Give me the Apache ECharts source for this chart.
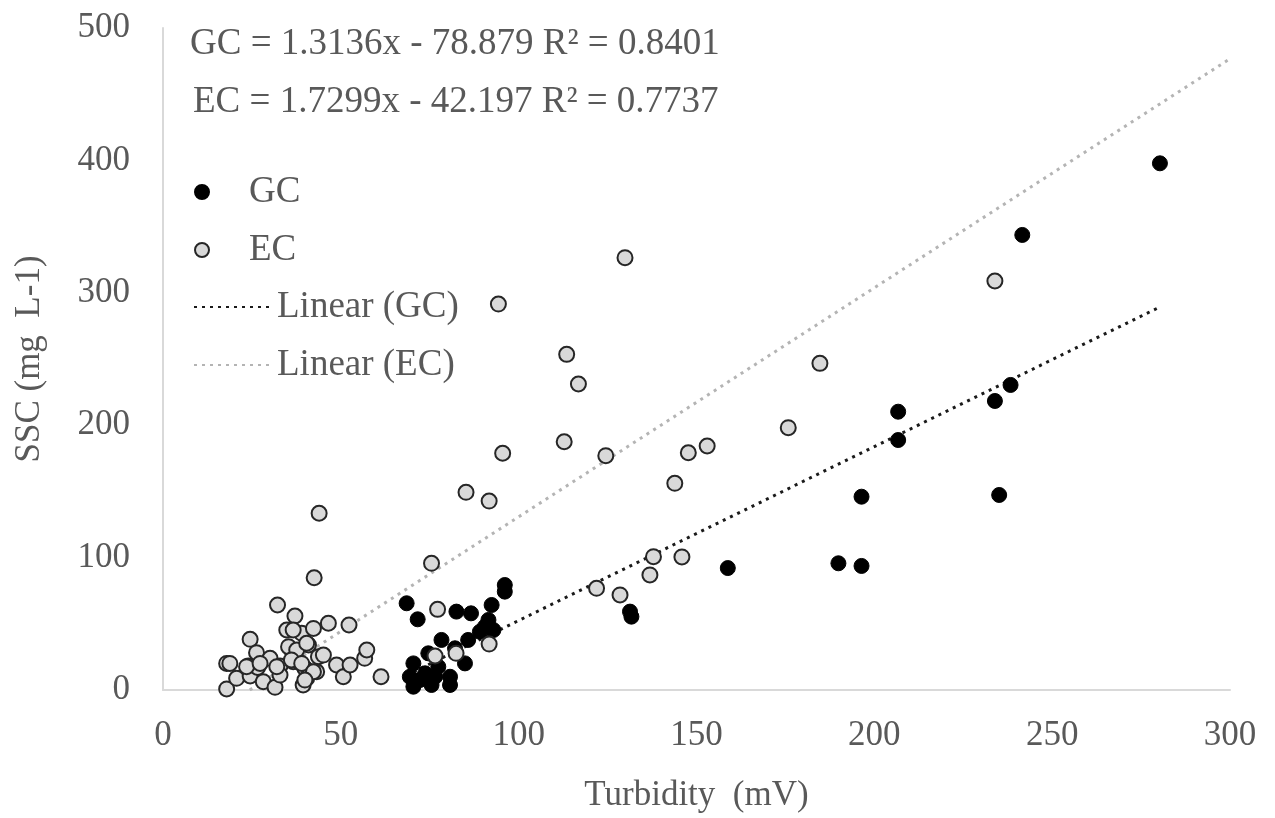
<!DOCTYPE html>
<html>
<head>
<meta charset="utf-8">
<script src="https://cdn.jsdelivr.net/npm/echarts@6/dist/echarts.min.js"></script>
<style>
  html, body { margin: 0; padding: 0; background: #fff; }
  #chart { width: 1275px; height: 818px; }
</style>
</head>
<body>
<div id="chart"></div>
<script>
// GC points (turbidity mV, SSC mg/L)
const gcX = [68.5, 71.6, 82.5, 86.6, 92.4, 91.5, 90.5, 89.1, 92.9, 96.1, 96.1, 85.8, 78.3, 82.1, 74.6,
  84.9, 70.4, 77.4, 69.4, 73.7, 76.5, 80.7, 70.4, 72.2, 75.5, 80.7, 131.3, 131.7, 158.8, 189.9,
  196.4, 196.4, 235.1, 206.7, 206.7, 233.9, 238.3, 241.6, 280.3];
const gcY = [65.5, 53.4, 59.2, 57.9, 64.2, 52.9, 47.8, 44.0, 45.3, 79.3, 74.3, 37.8, 37.8, 31.5, 27.7,
  20.1, 20.1, 17.6, 10.0, 12.6, 10.0, 10.0, 2.5, 7.5, 3.8, 3.8, 59.2, 55.4, 92.1, 95.7,
  93.7, 146.0, 147.3, 188.8, 210.2, 218.3, 230.4, 343.7, 397.8];

// EC points
const ecX = [17.9, 17.9, 20.7, 24.0, 24.5, 24.5, 26.3, 26.6, 28.2, 30.1, 31.5, 32.2, 32.9, 32.9, 34.8,
  36.1, 36.6, 37.1, 39.0, 39.4, 39.9, 40.4, 40.9, 42.3, 38.5, 43.7, 43.9, 42.5, 45.1, 46.5,
  48.8, 50.7, 52.3, 52.6, 56.7, 57.3, 61.3, 41.5, 43.2, 75.5, 77.2, 76.5, 82.4, 91.7, 85.2,
  91.7, 94.3, 95.5, 112.8, 113.5, 116.8, 121.9, 124.5, 128.5, 129.9, 136.9, 137.9, 143.9, 145.9, 147.7,
  153.0, 175.8, 184.7, 233.9, 23.5, 27.3, 32.0, 35.3, 37.6, 40.4, 36.1, 39.0, 42.3, 39.9,
  36.6, 18.8];
const ecY = [0.8, 20.1, 8.8, 18.1, 10.6, 38.3, 28.2, 17.0, 6.3, 23.9, 2.0, 64.2, 18.1, 11.3, 45.3,
  30.2, 21.4, 55.9, 42.8, 3.8, 16.4, 8.8, 34.0, 46.5, 20.6, 25.2, 133.5, 84.8, 26.4, 50.4,
  18.9, 10.0, 49.1, 18.9, 23.9, 30.2, 10.0, 13.8, 13.8, 95.7, 60.9, 25.7, 27.7, 34.7, 149.3,
  142.7, 291.5, 178.8, 187.5, 253.5, 231.1, 76.8, 177.0, 71.8, 326.5, 86.9, 100.7, 156.1, 100.5, 179.2,
  184.3, 198.1, 246.7, 308.9, 17.6, 20.1, 17.6, 32.7, 30.2, 35.3, 22.7, 20.1, 13.8, 7.5,
  45.3, 20.1];

// trend line coefficients [slope, intercept], as printed on the chart
const gcFit = [1.3136, -78.879];
const ecFit = [1.7299, -42.197];
const eqLines = ['GC = 1.3136x - 78.879 R² = 0.8401', 'EC = 1.7299x - 42.197 R² = 0.7737'];

const xTicks = { min: 0, max: 300, interval: 50 };
const yTicks = { min: 0, max: 500, interval: 100 };

const FONT = '"Liberation Serif", "Times New Roman", serif';
const TXT = '#595959';

const zip = (xs, ys) => xs.map((x, i) => [x, ys[i]]);
// trend lines run over the data range (EC one is extended forward to the axis max)
const fitLine = (fit, x0, x1) => {
  const start = Math.max(x0, -fit[1] / fit[0]);
  return [[start, fit[0] * start + fit[1]], [x1, fit[0] * x1 + fit[1]]];
};

const chart = echarts.init(document.getElementById('chart'));
chart.setOption({
  animation: false,
  grid: { left: 163, right: 45, top: 28, bottom: 128 },
  xAxis: {
    type: 'value', min: xTicks.min, max: xTicks.max, interval: xTicks.interval,
    name: 'Turbidity  (mV)', nameLocation: 'middle', nameGap: 88,
    nameTextStyle: { fontFamily: FONT, fontSize: 35, color: TXT },
    axisLine: { show: true, lineStyle: { color: '#d9d9d9', width: 2 } },
    axisTick: { show: false },
    splitLine: { show: false },
    axisLabel: { fontFamily: FONT, fontSize: 35, color: TXT, margin: 28 }
  },
  yAxis: {
    type: 'value', min: yTicks.min, max: yTicks.max, interval: yTicks.interval,
    name: 'SSC (mg  L-1)', nameLocation: 'middle', nameGap: 116,
    nameTextStyle: { fontFamily: FONT, fontSize: 35, color: TXT },
    axisLine: { show: true, lineStyle: { color: '#d9d9d9', width: 2 } },
    axisTick: { show: false },
    splitLine: { show: false },
    axisLabel: { fontFamily: FONT, fontSize: 35, color: TXT, margin: 33 }
  },
  legend: [
    {
      data: ['GC', 'EC'], orient: 'vertical', left: 189, top: 167,
      itemWidth: 84, itemHeight: 14, itemGap: 18, icon: 'circle',
      textStyle: { fontFamily: FONT, fontSize: 37, color: TXT, lineHeight: 40 }
    },
    {
      data: ['Linear (GC)', 'Linear (EC)'], orient: 'vertical', left: 188, top: 282,
      itemWidth: 78, itemHeight: 14, itemGap: 18,
      itemStyle: { opacity: 0 },
      textStyle: { fontFamily: FONT, fontSize: 37, color: TXT, lineHeight: 40 }
    }
  ],
  graphic: eqLines.map((t, i) => ({
    type: 'text', left: 190 + i * 3, top: 26 + i * 58,
    style: { text: t, font: '37px ' + FONT, fill: TXT }
  })),
  series: [
    {
      name: 'Linear (EC)', type: 'line', z: 1, symbol: 'none',
      data: fitLine(ecFit, Math.min(...ecX), xTicks.max),
      itemStyle: { color: '#b4b4b4' },
      lineStyle: { color: '#b4b4b4', width: 3, type: [3, 5] }
    },
    {
      name: 'Linear (GC)', type: 'line', z: 1, symbol: 'none',
      data: fitLine(gcFit, Math.min(...gcX), Math.max(...gcX)),
      itemStyle: { color: '#1a1a1a' },
      lineStyle: { color: '#1a1a1a', width: 3, type: [3, 5] }
    },
    {
      name: 'GC', type: 'scatter', z: 3, symbolSize: 15,
      data: zip(gcX, gcY),
      itemStyle: { color: '#000', borderColor: '#000', borderWidth: 1, opacity: 1 }
    },
    {
      name: 'EC', type: 'scatter', z: 4, symbolSize: 15,
      data: zip(ecX, ecY),
      itemStyle: { color: '#d9d9d9', borderColor: '#262626', borderWidth: 2, opacity: 1 }
    }
  ]
});
</script>
</body>
</html>
